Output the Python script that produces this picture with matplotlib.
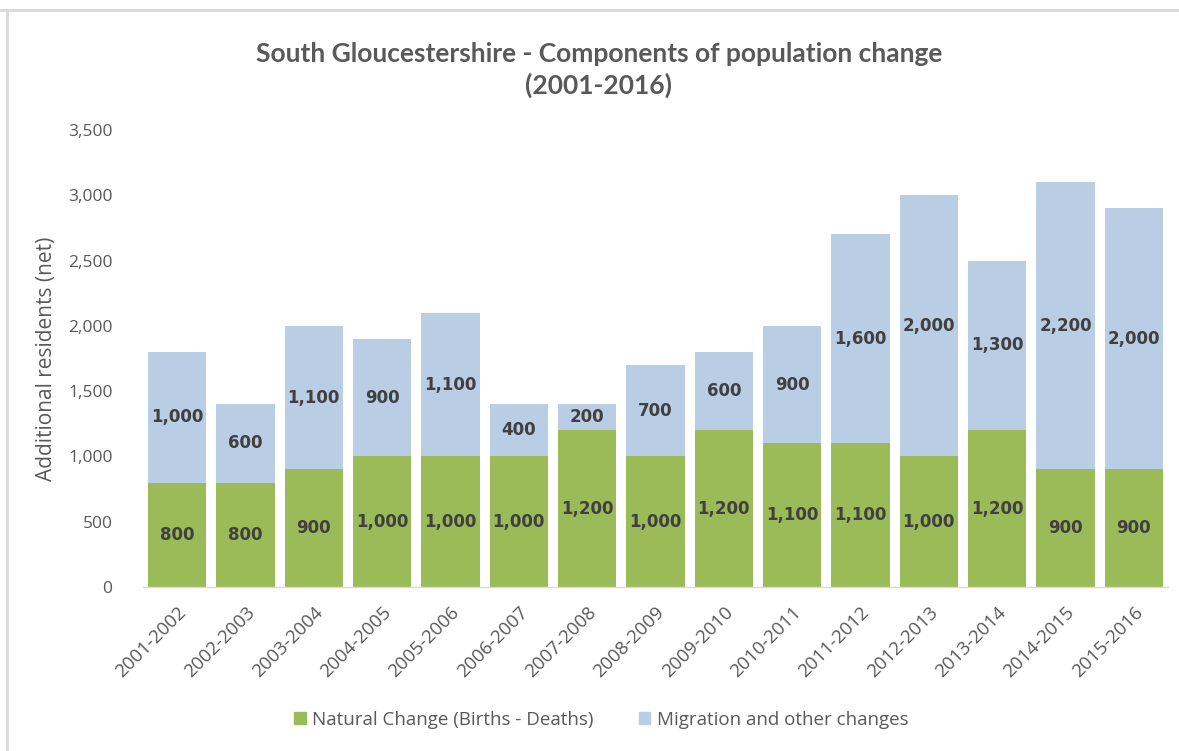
import matplotlib
matplotlib.use("Agg")
import matplotlib.pyplot as plt
from matplotlib.lines import Line2D
from matplotlib.ticker import FuncFormatter

plt.rcParams['font.family'] = ['Open Sans', 'DejaVu Sans']

periods = ["2001-2002", "2002-2003", "2003-2004", "2004-2005", "2005-2006",
           "2006-2007", "2007-2008", "2008-2009", "2009-2010", "2010-2011",
           "2011-2012", "2012-2013", "2013-2014", "2014-2015", "2015-2016"]
natural = [800, 800, 900, 1000, 1000, 1000, 1200, 1000, 1200, 1100, 1100, 1000, 1200, 900, 900]
migration = [1000, 600, 1100, 900, 1100, 400, 200, 700, 600, 900, 1600, 2000, 1300, 2200, 2000]
yticks = [0, 500, 1000, 1500, 2000, 2500, 3000, 3500]

title = "South Gloucestershire - Components of population change\n(2001-2016)"
ylabel = "Additional residents (net)"
series_names = ["Natural Change (Births - Deaths)", "Migration and other changes"]

GREEN = "#9BBB59"
BLUE = "#B9CDE5"
TXT = "#595959"
LAB = "#404040"

W, H = 1179, 751
fig = plt.figure(figsize=(W / 100, H / 100), dpi=100)
ax = fig.add_axes([143 / W, 1 - 587 / H, (1168 - 143) / W, (587 - 130) / H])

x = list(range(len(periods)))
ax.bar(x, natural, width=0.85, color=GREEN, label=series_names[0])
ax.bar(x, migration, width=0.85, bottom=natural, color=BLUE, label=series_names[1])

for xi, n, m in zip(x, natural, migration):
    ax.text(xi, n / 2, f"{n:,}", ha="center", va="center", fontsize=12,
            fontweight="bold", color=LAB, family="DejaVu Sans")
    ax.text(xi, n + m / 2, f"{m:,}", ha="center", va="center", fontsize=12,
            fontweight="bold", color=LAB, family="DejaVu Sans")

ax.set_xlim(-0.5, len(periods) - 0.5)
ax.set_ylim(0, 3500)
ax.set_yticks(yticks)
ax.yaxis.set_major_formatter(FuncFormatter(lambda v, p: f"{int(v):,}"))
ax.set_xticks(x)
ax.set_xticklabels(periods, rotation=45, ha="right", rotation_mode="anchor")

for s in ["top", "right", "left"]:
    ax.spines[s].set_visible(False)
ax.spines["bottom"].set_color("#D9D9D9")
ax.spines["bottom"].set_linewidth(1.0)
ax.tick_params(axis="y", length=0, colors=TXT, labelsize=12.5, pad=22)
ax.tick_params(axis="x", length=0, colors=TXT, labelsize=13.5, pad=12)

ax.set_ylabel(ylabel, fontsize=15, color=TXT, labelpad=8)

fig.text(0.508, 1 - 70 / H, title, ha="center", va="center", fontsize=19,
         fontweight="bold", color=TXT, linespacing=1.35, family=["Lato", "DejaVu Sans"])

handles = [plt.Rectangle((0, 0), 1, 1, color=GREEN), plt.Rectangle((0, 0), 1, 1, color=BLUE)]
fig.legend(handles, series_names, loc="center", bbox_to_anchor=(0.51, 1 - 720 / H),
           ncol=2, frameon=False, fontsize=13.5, labelcolor=TXT,
           handlelength=0.6, handleheight=0.6, handletextpad=0.35, columnspacing=2.4)

# figure frame lines (top and left)
fig.add_artist(Line2D([0, 1], [1 - 10 / H, 1 - 10 / H], transform=fig.transFigure,
                      color="#D9D9D9", linewidth=2))
fig.add_artist(Line2D([7 / W, 7 / W], [0, 1 - 10 / H], transform=fig.transFigure,
                      color="#D9D9D9", linewidth=2))

fig.savefig("out.png", dpi=100, facecolor="white")
